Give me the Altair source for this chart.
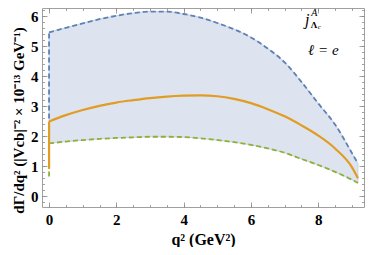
import altair as alt
import pandas as pd

# ---- data ----
q2 = [0, 0.5, 1, 1.5, 2, 2.5, 3, 3.5, 4, 4.5, 5, 5.5, 6, 6.5, 7, 7.5, 8, 8.5, 9, 9.18]
upper = [5.47, 5.62, 5.77, 5.91, 6.02, 6.11, 6.16, 6.16, 6.08, 5.96, 5.78, 5.57, 5.30, 4.93, 4.47, 3.82, 3.10, 2.40, 1.45, 1.10]
central = [2.50, 2.71, 2.88, 3.02, 3.13, 3.21, 3.28, 3.33, 3.36, 3.37, 3.34, 3.25, 3.11, 2.91, 2.67, 2.37, 2.03, 1.60, 0.98, 0.61]
lower = [1.77, 1.83, 1.88, 1.92, 1.95, 1.97, 1.99, 1.99, 1.98, 1.94, 1.88, 1.81, 1.72, 1.60, 1.46, 1.25, 1.05, 0.82, 0.56, 0.45]
# values exactly at q^2 = 0 (vertical drop at the left end)
upper_at0 = 2.6
central_at0 = 0.92
lower_at0 = 0.67

x_major = [0, 2, 4, 6, 8]
x_minor = [0.5 * i for i in range(0, 19)]
y_major = [0, 1, 2, 3, 4, 5, 6]
y_minor = [round(-0.2 + 0.2 * i, 1) for i in range(33)]

anno_text = ["j", "A", "c", "ℓ = e"]
anno_q = [7.67, 7.88, 8.03, 8.15]
anno_v = [5.87, 6.13, 5.66, 4.87]
anno_size = [16, 10, 7, 15]
lam_text = ["Λ"]
lam_q = [7.87]
lam_v = [5.72]
lam_size = [9]


def series_df(vals, v0):
    rows = [{"q2": q, "v": v, "part": "curve"} for q, v in zip(q2, vals)]
    rows += [{"q2": q2[0], "v": v0, "part": "drop"}, {"q2": q2[0], "v": vals[0], "part": "drop"}]
    return pd.DataFrame(rows)


band_df = pd.DataFrame({"q2": q2, "upper": upper, "lower": lower})
up_df = series_df(upper, upper_at0)
ce_df = series_df(central, central_at0)
lo_df = series_df(lower, lower_at0)
anno = pd.DataFrame({"t": anno_text, "q2": anno_q, "v": anno_v, "s": anno_size})
lam = pd.DataFrame({"t": lam_text, "q2": lam_q, "v": lam_v, "s": lam_size})

W, H = 322, 199
FONT = "Liberation Serif"
TICK = "#8a8a8a"
xs = alt.Scale(domain=[-0.21, 9.36], nice=False, zero=False)
ys = alt.Scale(domain=[-0.35, 6.28], nice=False, zero=False)


def tick_axis(orient, offset, values, size):
    return alt.Axis(orient=orient, offset=offset, values=values, tickSize=size,
                    labels=False, domain=False, grid=False, title=None,
                    tickColor=TICK, tickWidth=0.8)


x_lab = alt.Axis(orient="bottom", values=x_major, ticks=False, domain=False, grid=False,
                 format="d", labelFont=FONT, labelFontWeight="bold", labelFontSize=15,
                 labelColor="black", labelPadding=5,
                 title="q² (GeV²)", titleFont=FONT, titleFontSize=16,
                 titleFontWeight="bold", titleColor="black", titlePadding=4)
y_lab = alt.Axis(orient="left", values=y_major, ticks=False, domain=False, grid=False,
                 format="d", labelFont=FONT, labelFontWeight="bold", labelFontSize=15,
                 labelColor="black", labelPadding=4,
                 title="dΓ/dq² (|Vcb|⁻² × 10⁻¹³ GeV⁻¹)", titleFont=FONT,
                 titleFontSize=15, titleFontWeight="bold", titleColor="black",
                 titleX=-24, titleY=112, titleAngle=-90, titleAlign="center",
                 titleBaseline="middle")

band = alt.Chart(band_df).mark_area(
    color="#dde4ef", opacity=1, interpolate="monotone",
    stroke="#c3d1e6", strokeWidth=1
).encode(
    x=alt.X("q2:Q", scale=xs, axis=x_lab),
    y=alt.Y("lower:Q", scale=ys, axis=y_lab),
    y2="upper:Q",
)

blue = alt.Chart(up_df).mark_line(
    color="#5e81b5", strokeDash=[5, 3], strokeWidth=1.8, interpolate="monotone"
).encode(
    x=alt.X("q2:Q", scale=xs, axis=tick_axis("top", -H, x_major, 5)),
    y=alt.Y("v:Q", scale=ys, axis=tick_axis("right", -W, y_major, 5)),
    detail="part:N",
)

green = alt.Chart(lo_df).mark_line(
    color="#8fb032", strokeDash=[5, 3], strokeWidth=1.8, interpolate="monotone"
).encode(
    x=alt.X("q2:Q", scale=xs, axis=tick_axis("top", -H, x_minor, 2.5)),
    y=alt.Y("v:Q", scale=ys, axis=tick_axis("right", -W, y_minor, 2.5)),
    detail="part:N",
)

orange = alt.Chart(ce_df).mark_line(
    color="#e19c24", strokeWidth=2.2, interpolate="monotone"
).encode(
    x=alt.X("q2:Q", scale=xs, axis=tick_axis("bottom", -H, x_major, 5)),
    y=alt.Y("v:Q", scale=ys, axis=tick_axis("left", -W, y_major, 5)),
    detail="part:N",
)

txt = alt.Chart(anno).mark_text(
    font=FONT, fontStyle="italic", color="black", align="center", baseline="middle"
).encode(
    x=alt.X("q2:Q", scale=xs, axis=tick_axis("bottom", -H, x_minor, 2.5)),
    y=alt.Y("v:Q", scale=ys, axis=tick_axis("left", -W, y_minor, 2.5)),
    text="t:N",
    size=alt.Size("s:Q", scale=None, legend=None),
)

lamt = alt.Chart(lam).mark_text(
    font=FONT, fontWeight="bold", color="black", align="center", baseline="middle"
).encode(
    x=alt.X("q2:Q", scale=xs, axis=None),
    y=alt.Y("v:Q", scale=ys, axis=None),
    text="t:N",
    size=alt.Size("s:Q", scale=None, legend=None),
)

chart = alt.layer(band, blue, green, orange, txt, lamt).resolve_axis(
    x="independent", y="independent"
).properties(
    width=W, height=H,
    autosize=alt.AutoSizeParams(type="none"),
    padding={"left": 34, "top": 0, "right": 2, "bottom": 40},
).configure_view(stroke="#a0a0a0", strokeWidth=1)

chart.save("out.html", embed_options={"renderer": "svg", "actions": False})
